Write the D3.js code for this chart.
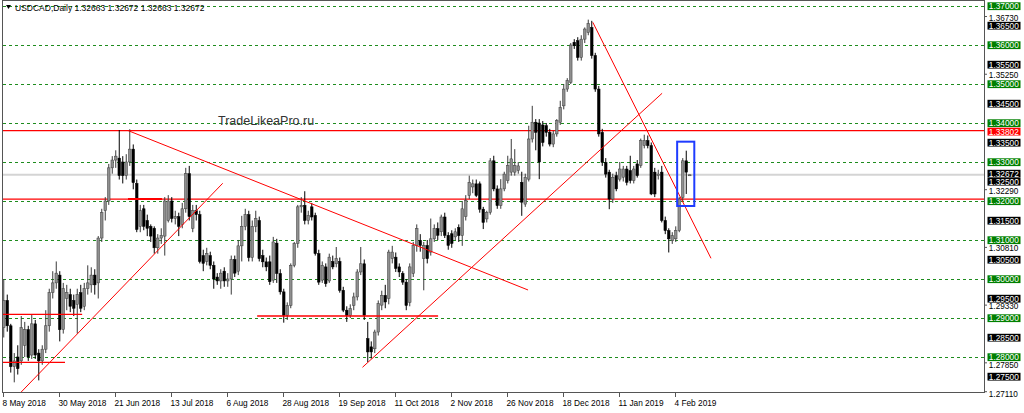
<!DOCTYPE html>
<html><head><meta charset="utf-8">
<script src="https://cdn.jsdelivr.net/npm/d3@7"></script>
<style>html,body{margin:0;padding:0;background:#fff;overflow:hidden}svg{display:block}</style>
</head><body>
<svg id="c" width="1024" height="413"></svg>
<script>
// ---- data (USDCAD daily) ----
const opens=[1.2875,1.2945,1.2880,1.2775,1.2800,1.2790,1.2830,1.2870,1.2805,1.2885,1.2810,1.2790,1.2820,1.2880,1.2965,1.2990,1.3010,1.2870,1.2950,1.2960,1.2945,1.2935,1.2965,1.2930,1.2975,1.2985,1.3010,1.2990,1.3105,1.3175,1.3200,1.3285,1.3305,1.3310,1.3300,1.3265,1.3300,1.3333,1.3245,1.3135,1.3180,1.3150,1.3135,1.3130,1.3080,1.3105,1.3110,1.3150,1.3200,1.3155,1.3160,1.3140,1.3180,1.3270,1.3130,1.3175,1.3165,1.3060,1.3045,1.3060,1.3035,1.3005,1.2995,1.3020,1.2995,1.3000,1.3050,1.3020,1.3085,1.3135,1.3165,1.3055,1.3135,1.3150,1.3060,1.3044,1.3044,1.2997,1.3092,1.3014,1.2967,1.2907,1.2932,1.3035,1.3091,1.3185,1.3189,1.3150,1.3185,1.3163,1.3065,1.2997,1.3031,1.2995,1.3045,1.3039,1.3045,1.2971,1.2920,1.2907,1.2932,1.2954,1.3018,1.3039,1.2847,1.2826,1.2821,1.2864,1.2933,1.2958,1.2950,1.3052,1.3056,1.3031,1.3014,1.2992,1.2940,1.3014,1.3086,1.3099,1.3052,1.3086,1.3069,1.3103,1.3129,1.3121,1.3159,1.3112,1.3116,1.3108,1.3132,1.3111,1.3160,1.3214,1.3236,1.3244,1.3244,1.3179,1.3154,1.3171,1.3303,1.3231,1.3188,1.3231,1.3252,1.3274,1.3274,1.3278,1.3248,1.3192,1.3256,1.3359,1.3402,1.3400,1.3395,1.3393,1.3376,1.3346,1.3372,1.3402,1.3444,1.3487,1.3504,1.3607,1.3611,1.3568,1.3615,1.3632,1.3645,1.3573,1.3487,1.3376,1.3299,1.3274,1.3205,1.3265,1.3256,1.3261,1.3282,1.3278,1.3252,1.3295,1.3291,1.3342,1.3355,1.3342,1.3274,1.3265,1.3274,1.3150,1.3124,1.3098,1.3103,1.3124,1.3209,1.3303,1.32663];
const highs=[1.3000,1.2960,1.2885,1.2810,1.2830,1.2905,1.2890,1.2880,1.2910,1.2895,1.2820,1.2830,1.2920,1.2975,1.3020,1.3045,1.3020,1.2990,1.2985,1.2975,1.2960,1.2975,1.2985,1.2990,1.3035,1.3030,1.3025,1.3110,1.3180,1.3210,1.3295,1.3315,1.3330,1.3382,1.3315,1.3320,1.3384,1.3345,1.3255,1.3190,1.3190,1.3165,1.3140,1.3135,1.3115,1.3130,1.3210,1.3215,1.3210,1.3175,1.3170,1.3195,1.3285,1.3290,1.3190,1.3190,1.3175,1.3075,1.3080,1.3070,1.3045,1.3015,1.3025,1.3030,1.3015,1.3060,1.3060,1.3100,1.3162,1.3180,1.3175,1.3150,1.3175,1.3160,1.3075,1.3055,1.3060,1.3108,1.3103,1.3025,1.2975,1.2940,1.3040,1.3095,1.3190,1.3210,1.3225,1.3175,1.3195,1.3170,1.3075,1.3045,1.3040,1.3065,1.3060,1.3082,1.3055,1.2980,1.2930,1.2935,1.2965,1.3025,1.3082,1.3050,1.2890,1.2840,1.2870,1.2945,1.2970,1.2985,1.3075,1.3085,1.3068,1.3040,1.3020,1.3000,1.3040,1.3095,1.3140,1.3115,1.3095,1.3100,1.3155,1.3140,1.3145,1.3165,1.3170,1.3120,1.3125,1.3130,1.3140,1.3200,1.3215,1.3265,1.3255,1.3255,1.3250,1.3185,1.3175,1.3310,1.3316,1.3240,1.3256,1.3275,1.3316,1.3359,1.3333,1.3300,1.3275,1.3270,1.3393,1.3444,1.3410,1.3410,1.3405,1.3400,1.3385,1.3380,1.3410,1.3457,1.3500,1.3515,1.3605,1.3615,1.3620,1.3625,1.3645,1.3665,1.3662,1.3580,1.3495,1.3385,1.3310,1.3280,1.3270,1.3275,1.3300,1.3290,1.3290,1.3316,1.3290,1.3305,1.3360,1.3370,1.3368,1.3350,1.3285,1.3280,1.3290,1.3160,1.3130,1.3120,1.3135,1.3210,1.3310,1.3329,1.32672];
const lows=[1.2850,1.2865,1.2760,1.2735,1.2755,1.2780,1.2800,1.2790,1.2795,1.2795,1.2740,1.2780,1.2810,1.2865,1.2950,1.2975,1.2840,1.2860,1.2920,1.2915,1.2905,1.2860,1.2915,1.2920,1.2960,1.2965,1.2960,1.2950,1.3095,1.3150,1.3190,1.3270,1.3285,1.3255,1.3245,1.3255,1.3290,1.3230,1.3120,1.3120,1.3125,1.3110,1.3095,1.3065,1.3065,1.3090,1.3060,1.3145,1.3145,1.3140,1.3110,1.3130,1.3170,1.3150,1.3120,1.3150,1.3040,1.3020,1.3035,1.3025,1.2975,1.2985,1.2975,1.2980,1.2980,1.2960,1.3005,1.3010,1.3045,1.3125,1.3045,1.3045,1.3120,1.3045,1.3030,1.3020,1.2985,1.2990,1.2990,1.2960,1.2888,1.2895,1.2925,1.3030,1.3080,1.3170,1.3140,1.3140,1.3150,1.3060,1.2985,1.2990,1.2980,1.2990,1.3025,1.3030,1.2965,1.2915,1.2890,1.2900,1.2920,1.2945,1.3010,1.2895,1.2787,1.2796,1.2810,1.2855,1.2920,1.2925,1.2935,1.3040,1.3018,1.3005,1.2985,1.2920,1.2930,1.3005,1.3070,1.3070,1.2971,1.3040,1.3060,1.3095,1.3100,1.3110,1.3105,1.3075,1.3080,1.3100,1.3095,1.3085,1.3150,1.3205,1.3220,1.3210,1.3170,1.3128,1.3145,1.3165,1.3225,1.3180,1.3180,1.3225,1.3245,1.3265,1.3265,1.3270,1.3162,1.3185,1.3250,1.3350,1.3330,1.3256,1.3340,1.3365,1.3340,1.3338,1.3365,1.3395,1.3435,1.3480,1.3500,1.3590,1.3560,1.3560,1.3605,1.3625,1.3565,1.3480,1.3365,1.3290,1.3260,1.3179,1.3195,1.3225,1.3250,1.3250,1.3240,1.3245,1.3245,1.3260,1.3285,1.3335,1.3335,1.3215,1.3210,1.3255,1.3145,1.3115,1.3068,1.3090,1.3095,1.3120,1.3200,1.3218,1.32663];
const closes=[1.2945,1.2880,1.2775,1.2790,1.2770,1.2875,1.2870,1.2800,1.2885,1.2805,1.2790,1.2820,1.2880,1.2965,1.2990,1.3015,1.2870,1.2975,1.2965,1.2930,1.2925,1.2960,1.2925,1.2975,1.2990,1.3010,1.2985,1.3105,1.3170,1.3200,1.3285,1.3305,1.3315,1.3265,1.3265,1.3300,1.3333,1.3247,1.3127,1.3175,1.3135,1.3130,1.3110,1.3080,1.3105,1.3112,1.3200,1.3200,1.3155,1.3160,1.3135,1.3180,1.3270,1.3160,1.3175,1.3165,1.3045,1.3040,1.3065,1.3035,1.3000,1.2995,1.3015,1.2995,1.3000,1.3050,1.3015,1.3085,1.3135,1.3165,1.3055,1.3135,1.3155,1.3052,1.3044,1.3031,1.2993,1.3095,1.3014,1.2967,1.2907,1.2932,1.3035,1.3091,1.3185,1.3189,1.3150,1.3163,1.3159,1.3065,1.2992,1.3035,1.2988,1.3056,1.3031,1.3052,1.2971,1.2920,1.2907,1.2924,1.2954,1.3018,1.3039,1.2907,1.2813,1.2813,1.2864,1.2937,1.2958,1.2941,1.3069,1.3069,1.3027,1.3018,1.2992,1.2932,1.3031,1.3086,1.3129,1.3086,1.3086,1.3052,1.3103,1.3129,1.3112,1.3159,1.3112,1.3086,1.3091,1.3121,1.3111,1.3180,1.3201,1.3248,1.3244,1.3214,1.3179,1.3145,1.3171,1.3303,1.3231,1.3188,1.3231,1.3269,1.3291,1.3308,1.3291,1.3290,1.3197,1.3261,1.3359,1.3402,1.3376,1.3300,1.3350,1.3376,1.3346,1.3372,1.3406,1.3440,1.3487,1.3509,1.3600,1.3598,1.3568,1.3615,1.3641,1.3655,1.3573,1.3487,1.3372,1.3299,1.3269,1.3205,1.3261,1.3231,1.3282,1.3282,1.3248,1.3252,1.3282,1.3265,1.3355,1.3355,1.3342,1.3218,1.3218,1.3269,1.3150,1.3124,1.3103,1.3111,1.3124,1.3205,1.3303,1.3274,1.32672];

const dateTickBars=[0,16,32,48,64,80,96,112,128,144,160,176,192];
const dateTickLabels=["8 May 2018","30 May 2018","21 Jun 2018","13 Jul 2018","6 Aug 2018","28 Aug 2018","19 Sep 2018","11 Oct 2018","2 Nov 2018","26 Nov 2018","18 Dec 2018","11 Jan 2019","4 Feb 2019"];

const greenLevels=[1.37,1.36,1.35,1.34,1.33,1.32,1.31,1.30,1.29,1.28];
const blackLabelLevels=[1.365,1.355,1.345,1.335,1.325,1.315,1.305,1.295,1.285,1.275];
const scaleTextLevels=[1.3673,1.3525,1.3229,1.3081,1.2933,1.2785,1.2711];
const redLevels=[1.33802,1.3205];
const currentPrice=1.32672;
const titleText="USDCAD,Daily  1.32663 1.32672 1.32663 1.32672";
const watermark="TradeLikeaPro.ru";

// trend / support lines in data space: [bar1, price1, bar2, price2, width]
const trendLines=[
  [3.7,1.26982,62.56,1.32454,1],
  [35.59,1.33803,149.8,1.29718,1],
  [102.5,1.27736,188.1,1.34762,1],
  [168.3,1.36582,202.07,1.30531,1],
  [-1,1.29095,22.4,1.29095,1.3],
  [-1,1.27864,17.5,1.27864,1.3],
  [35.5,1.32051,45.2,1.32051,2],
  [72.4,1.29051,124.1,1.29051,1.3]
];
const boxBars=[192.4,197.3], boxPrices=[1.33521,1.31872];

// ---- layout ----
const svg=d3.select("#c");
const P={l:3,r:984,t:1,b:392};
const y=d3.scaleLinear().domain([1.2711,1.37]).range([391.7,6]);
const x=d3.scaleLinear().domain([0,1]).range([3.75,7.25]);
const FONT="'Liberation Sans', Arial, sans-serif";

svg.append("rect").attr("width",1024).attr("height",413).attr("fill","#fff");
svg.append("clipPath").attr("id","clip").append("rect")
  .attr("x",P.l).attr("y",P.t).attr("width",P.r-P.l).attr("height",P.b-P.t);
const g=svg.append("g").attr("clip-path","url(#clip)");

// green dashed levels
g.selectAll(".gl").data(greenLevels).enter().append("line")
  .attr("x1",P.l).attr("x2",P.r).attr("y1",d=>Math.round(y(d))+0.5).attr("y2",d=>Math.round(y(d))+0.5)
  .attr("stroke","#1e8c1e").attr("stroke-width",1).attr("stroke-dasharray","3,3");
// current price line
g.append("line").attr("x1",P.l).attr("x2",P.r).attr("y1",y(currentPrice)).attr("y2",y(currentPrice))
  .attr("stroke","#d4d4d4").attr("stroke-width",2);
// red full-width levels
g.selectAll(".rl").data(redLevels).enter().append("line")
  .attr("x1",P.l).attr("x2",P.r).attr("y1",d=>y(d)).attr("y2",d=>y(d))
  .attr("stroke","#ff0000").attr("stroke-width",1.2);

// watermark
svg.append("text").attr("x",218).attr("y",125).attr("font-family",FONT).attr("font-size",12.5)
  .attr("fill","#333").text(watermark);

// candles
const bars=d3.range(opens.length);
const cg=g.append("g");
cg.selectAll(".wick").data(bars).enter().append("line")
  .attr("x1",i=>x(i)).attr("x2",i=>x(i)).attr("y1",i=>y(highs[i])).attr("y2",i=>y(lows[i]))
  .attr("stroke",i=>closes[i]>=opens[i]?"#3a3a3a":"#000").attr("stroke-width",1);
cg.selectAll(".body").data(bars).enter().append("rect")
  .attr("x",i=>x(i)-1.3).attr("width",2.6)
  .attr("y",i=>y(Math.max(opens[i],closes[i])))
  .attr("height",i=>Math.max(1,Math.abs(y(opens[i])-y(closes[i]))))
  .attr("fill",i=>closes[i]>=opens[i]?"#8f8f8f":"#000")
  .attr("stroke",i=>closes[i]>=opens[i]?"#3a3a3a":"#000").attr("stroke-width",0.5);

// trend lines
g.selectAll(".tl").data(trendLines).enter().append("line")
  .attr("x1",d=>x(d[0])).attr("y1",d=>y(d[1])).attr("x2",d=>x(d[2])).attr("y2",d=>y(d[3]))
  .attr("stroke","#ff0000").attr("stroke-width",d=>d[4]);
// blue box
g.append("rect").attr("x",x(boxBars[0])).attr("y",y(boxPrices[0]))
  .attr("width",x(boxBars[1])-x(boxBars[0])).attr("height",y(boxPrices[1])-y(boxPrices[0]))
  .attr("fill","none").attr("stroke","#1f3cff").attr("stroke-width",2);

// frame
svg.append("rect").attr("x",P.l-0.5).attr("y",P.t-0.5).attr("width",P.r-P.l+1).attr("height",P.b-P.t+1)
  .attr("fill","none").attr("stroke","#555").attr("stroke-width",1);

// title
svg.append("path").attr("d","M6,5 L11,5 L8.5,9 Z").attr("fill","#000");
svg.append("text").attr("x",15).attr("y",10.5).attr("font-family",FONT).attr("font-size",8.5)
  .attr("fill","#000").text(titleText);

// x axis ticks & labels
const ax=svg.append("g");
dateTickBars.forEach((b,k)=>{
  const xx=Math.round(x(b)-0.75)+0.5;
  ax.append("line").attr("x1",xx).attr("x2",xx).attr("y1",P.b).attr("y2",P.b+5).attr("stroke","#555");
  ax.append("text").attr("x",xx-1).attr("y",406).attr("font-family",FONT).attr("font-size",8.3)
    .attr("fill","#000").text(dateTickLabels[k]);
});

// right price scale
const fmt=d3.format(".5f");
const ry=svg.append("g");
function boxLabel(p,bg,dy){
  const yy=y(p)+(dy||0);
  ry.append("rect").attr("x",987.5).attr("y",yy-3.7).attr("width",33).attr("height",7.8).attr("fill",bg);
  ry.append("text").attr("x",988.8).attr("y",yy+3.1).attr("font-family",FONT).attr("font-size",8.3)
    .attr("fill","#fff").text(fmt(p));
}
scaleTextLevels.forEach(p=>{
  const yy=y(p);
  ry.append("line").attr("x1",P.r).attr("x2",P.r+3).attr("y1",yy).attr("y2",yy).attr("stroke","#555");
  ry.append("text").attr("x",988.8).attr("y",yy+(p<1.28?5:4)).attr("font-family",FONT).attr("font-size",8.2)
    .attr("fill","#000").text(fmt(p));
});
boxLabel(currentPrice,"#000",-1.3);
blackLabelLevels.forEach(p=>boxLabel(p,"#000"));
greenLevels.forEach(p=>boxLabel(p,"#008000"));
boxLabel(redLevels[0],"#ff0000",0.7);
</script>
</body></html>
